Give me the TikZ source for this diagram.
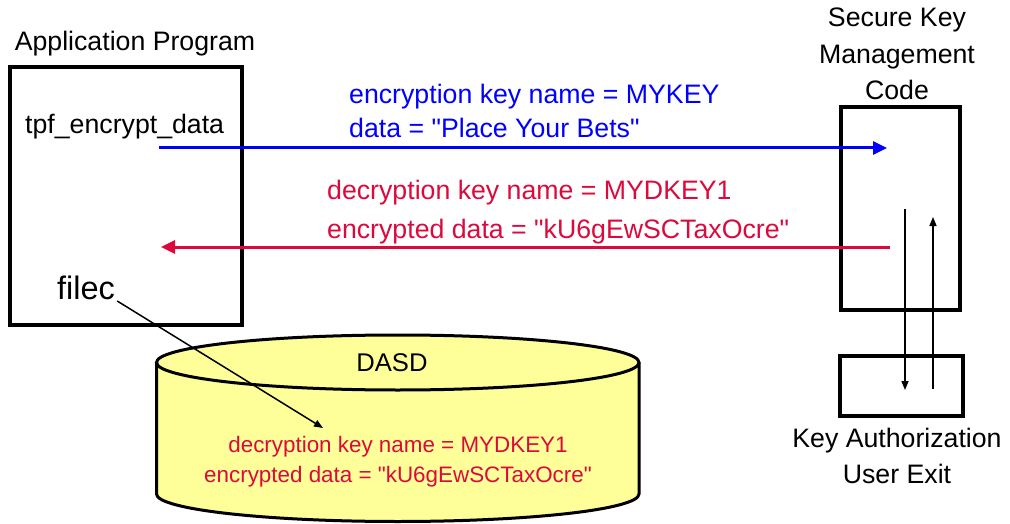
\documentclass[tikz,border=0pt]{standalone}
\usepackage{fontspec}
\setmainfont{Liberation Sans}[Ligatures=TeXOff]
\usetikzlibrary{arrows.meta}
\definecolor{msgblue}{RGB}{0,0,255}
\definecolor{msgred}{RGB}{220,10,60}
\definecolor{dasdyellow}{RGB}{255,255,153}
\tikzset{
  bigtext/.style={font=\fontsize{26.7}{36.5}\selectfont,inner sep=0pt},
  smalltext/.style={font=\fontsize{22.4}{30}\selectfont,inner sep=0pt,text=msgred},
  frame/.style={draw,line width=4pt,inner sep=0pt},
  message/.style={line width=3pt,-{Triangle[length=14pt,width=13pt]}},
  pointer/.style={line width=1.5pt,-{Triangle[length=9pt,width=7pt]}}
}
\begin{document}
\begin{tikzpicture}[x=1pt,y=1pt]
\useasboundingbox (0,0) rectangle (1010,-524);
% boxes
\node[frame,minimum width=232.5pt,minimum height=258pt] (app) at (125.75,-196) {};
\node[frame,minimum width=118.5pt,minimum height=202.5pt] (skm) at (900.25,-208.75) {};
\node[frame,minimum width=123pt,minimum height=60pt] (kauth) at (901.5,-386) {};
% labels (base of a multi-line node is its last line)
\node[bigtext,anchor=base] (appname) at (135,-51) {Application Program};
\node[bigtext,anchor=base west] (tpf) at (25,-134) {tpf\_encrypt\_data};
\node[bigtext,anchor=base west,font=\fontsize{32.5}{36}\selectfont] (filec) at (57,-299) {filec};
\node[bigtext,anchor=base,align=center] (skmname) at (897,-100) {Secure Key\\Management\\Code};
\node[bigtext,anchor=base,align=center,font=\fontsize{26.7}{36}\selectfont] (kaname) at (897,-483) {Key Authorization\\User Exit};
% messages
\node[bigtext,anchor=base west,align=left,text=msgblue,font=\fontsize{26.7}{34}\selectfont] (enctext) at (349,-138) {encryption key name = MYKEY\\data = "Place Your Bets"};
\node[bigtext,anchor=base west,align=left,text=msgred,font=\fontsize{26.7}{39}\selectfont] (dectext) at (327,-238) {decryption key name = MYDKEY1\\encrypted data = "kU6gEwSCTaxOcre"};
\coordinate (encfrom) at (159,-148);
\coordinate (encto) at (887,-148);
\coordinate (decfrom) at (890,-247);
\coordinate (decto) at (161,-247);
\draw[message,msgblue] (encfrom) -- (encto);
\draw[message,msgred] (decfrom) -- (decto);
% DASD
\fill[dasdyellow] (156.5,-362.5) -- (156.5,-494) arc[start angle=180,end angle=360,x radius=241.25pt,y radius=27.5pt] -- (639,-362.5) arc[start angle=0,end angle=180,x radius=241.25pt,y radius=27.5pt] -- cycle;
\draw[line width=3pt] (156.5,-362.5) -- (156.5,-494) arc[start angle=180,end angle=360,x radius=241.25pt,y radius=27.5pt] -- (639,-362.5);
\draw[line width=3pt] (397.75,-362.5) ellipse[x radius=241.25pt,y radius=27.5pt];
\node[bigtext,font=\fontsize{25.6}{30}\selectfont,anchor=base] (dasd) at (392,-371) {DASD};
\node[smalltext,anchor=base,align=center] (stored) at (398,-482) {decryption key name = MYDKEY1\\encrypted data = "kU6gEwSCTaxOcre"};
\coordinate (filectip) at (323,-428);
\draw[pointer] ([shift={(2pt,-2pt)}]filec.base east) -- (filectip);
% user exit calls
\coordinate (dn) at (905,-390);
\coordinate (upstart) at (933,-389);
\coordinate (upend) at (933,-217);
\draw[pointer] (dn |- skm.center) -- (dn);
\draw[pointer] (upstart) -- (upend);
\end{tikzpicture}
\end{document}
